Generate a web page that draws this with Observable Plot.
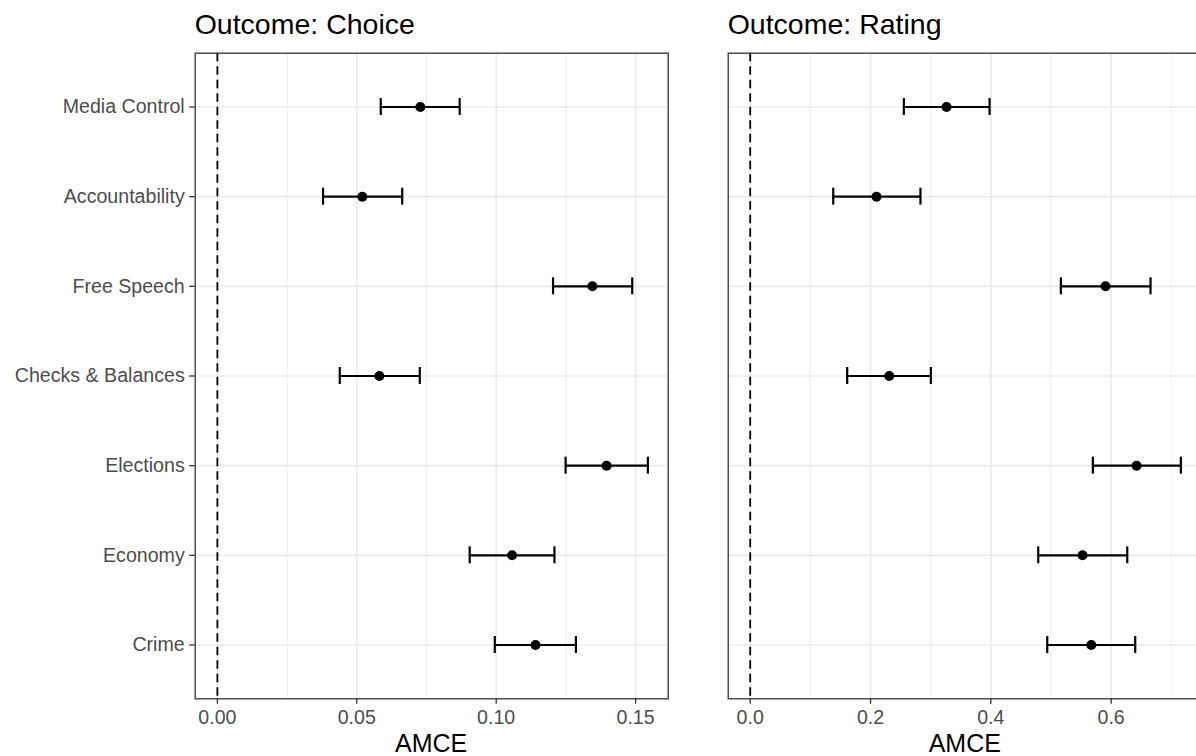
<!DOCTYPE html>
<html>
<head>
<meta charset="utf-8">
<script src="https://cdn.jsdelivr.net/npm/d3@7"></script>
<script src="https://cdn.jsdelivr.net/npm/@observablehq/plot@0.6"></script>
<style>
  html, body { margin: 0; padding: 0; background: #fff; }
  #wrap { position: relative; width: 1196px; height: 756px; overflow: hidden; font-family: "Liberation Sans", Arial, sans-serif; }
  .panel { position: absolute; }
  .panel svg { max-width: none !important; display: block; }
  .title { position: absolute; font-size: 28.5px; line-height: 1; color: #000; white-space: nowrap; }
  .xlab { position: absolute; width: 300px; text-align: center; font-size: 25px; line-height: 1; color: #000; }
</style>
</head>
<body>
<div id="wrap">
  <div class="title" style="left:194.7px; top:10.2px;">Outcome: Choice</div>
  <div class="title" style="left:727.7px; top:10.2px;">Outcome: Rating</div>
  <div id="left" class="panel" style="left:0px; top:40px; width:680px; height:700px;"></div>
  <div id="right" class="panel" style="left:700px; top:40px; width:520px; height:700px;"></div>
  <div class="xlab" style="left:281.2px; top:730.5px;">AMCE</div>
  <div class="xlab" style="left:814.8px; top:730.5px;">AMCE</div>
</div>
<script>
// ---- data ----
const categories = ["Media Control", "Accountability", "Free Speech", "Checks & Balances", "Elections", "Economy", "Crime"];

const choiceEst = [0.0728, 0.0520, 0.1345, 0.0581, 0.1396, 0.1057, 0.1141];
const choiceLo  = [0.0586, 0.0379, 0.1204, 0.0439, 0.1249, 0.0905, 0.0995];
const choiceHi  = [0.0869, 0.0663, 0.1488, 0.0726, 0.1544, 0.1209, 0.1286];

const ratingEst = [0.3264, 0.2100, 0.5907, 0.2311, 0.6423, 0.5525, 0.5670];
const ratingLo  = [0.2554, 0.1380, 0.5164, 0.1612, 0.5696, 0.4788, 0.4938];
const ratingHi  = [0.3979, 0.2830, 0.6655, 0.3003, 0.7159, 0.6268, 0.6400];

const choiceTicks  = [0, 0.05, 0.10, 0.15];
const choiceLabels = ["0.00", "0.05", "0.10", "0.15"];
const choiceMinor  = [0.025, 0.075, 0.125];

const ratingTicks  = [0, 0.2, 0.4, 0.6];
const ratingLabels = ["0.0", "0.2", "0.4", "0.6"];
const ratingMinor  = [0.1, 0.3, 0.5, 0.7];

const refLine = [0];

// ---- build ----
function rows(est, lo, hi) {
  return categories.map((c, i) => ({cat: c, est: est[i], lo: lo[i], hi: hi[i]}));
}

function panel({data, domain, ticks, labels, minor, showY, width, marginLeft, marginRight}) {
  const fmt = d => labels[ticks.indexOf(d)];
  return Plot.plot({
    width,
    height: 700,
    marginTop: 12.7,
    marginBottom: 41.7,
    marginLeft,
    marginRight,
    style: {fontFamily: '"Liberation Sans", Arial, sans-serif', fontSize: "19.6px", background: "transparent", overflow: "visible", maxWidth: "none"},
    x: {domain, axis: null},
    y: {type: "band", domain: categories, paddingInner: 0.9, paddingOuter: 0.55, round: false, axis: null},
    marks: [
      Plot.ruleX(minor, {stroke: "#ebebeb", strokeWidth: 0.9}),
      Plot.ruleX(ticks, {stroke: "#ebebeb", strokeWidth: 1.7}),
      Plot.ruleY(categories, {y: d => d, stroke: "#ebebeb", strokeWidth: 1.7}),
      Plot.ruleX(refLine, {stroke: "#000", strokeWidth: 1.8, strokeDasharray: "8.5,5"}),
      Plot.ruleY(data, {y: "cat", x1: "lo", x2: "hi", stroke: "#000", strokeWidth: 2.2}),
      Plot.tickX(data, {x: "lo", y: "cat", stroke: "#000", strokeWidth: 2.2, insetTop: -4, insetBottom: -4}),
      Plot.tickX(data, {x: "hi", y: "cat", stroke: "#000", strokeWidth: 2.2, insetTop: -4, insetBottom: -4}),
      Plot.dot(data, {x: "est", y: "cat", r: 5, fill: "#000", stroke: null}),
      Plot.frame({stroke: "#333", strokeWidth: 1.3}),
      Plot.axisX({ticks, tickFormat: fmt, tickSize: 5.5, tickPadding: 6, stroke: "#333", fill: "#4d4d4d", label: null, strokeWidth: 1.3, fontSize: 19.6}),
      showY ? Plot.axisY({tickSize: 5.5, tickPadding: 5, stroke: "#333", fill: "#4d4d4d", label: null, strokeWidth: 1.3, fontSize: 19.6}) : null
    ]
  });
}

document.getElementById("left").append(panel({
  data: rows(choiceEst, choiceLo, choiceHi),
  domain: [-0.00796, 0.1617],
  ticks: choiceTicks, labels: choiceLabels, minor: choiceMinor,
  showY: true, width: 680, marginLeft: 194.7, marginRight: 12.3
}));

document.getElementById("right").append(panel({
  data: rows(ratingEst, ratingLo, ratingHi),
  domain: [-0.0366, 0.7517],
  ticks: ratingTicks, labels: ratingLabels, minor: ratingMinor,
  showY: false, width: 520, marginLeft: 27.7, marginRight: 18.1
}));
</script>
</body>
</html>
